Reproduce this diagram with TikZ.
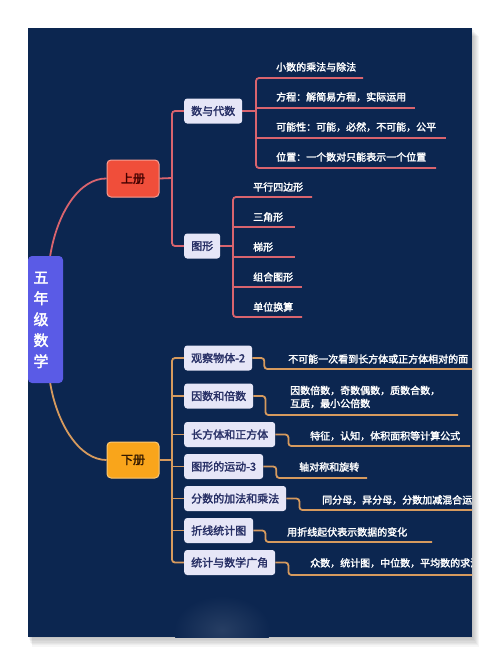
\documentclass[tikz,border=0pt]{standalone}
\usepackage{fontspec}
\setmainfont{Noto Sans CJK SC}
\newfontfamily\heavy{Noto Sans CJK SC}[FakeBold=2.2]
\definecolor{bg}{HTML}{0C2650}
\definecolor{rootc}{HTML}{5A5BE6}
\definecolor{upc}{HTML}{F04E3A}
\definecolor{upl}{HTML}{D9646E}
\definecolor{dnc}{HTML}{F9A51B}
\definecolor{dnl}{HTML}{D69A5E}
\definecolor{subf}{HTML}{E6E6F7}
\definecolor{subt}{HTML}{283066}
\pgfdeclarelayer{back}
\pgfsetlayers{back,main}
\begin{document}
\begin{tikzpicture}[x=1pt,y=-1pt,line join=round,
  subnode/.style={fill=subf,text=subt,rounded corners=3pt,minimum height=25pt,inner xsep=7pt,inner ysep=0pt,font=\heavy\fontsize{11}{13}\selectfont,anchor=west},
  leaf/.style={text=white,font=\heavy\fontsize{10}{13}\selectfont,anchor=west,inner sep=0pt,align=left},
  upline/.style={draw=upl,line width=1.8pt,rounded corners=3pt},
  dnline/.style={draw=dnl,line width=1.8pt,rounded corners=3pt},
  volbox/.style={minimum width=52pt,minimum height=37pt,rounded corners=4pt,line width=1pt,font=\heavy\fontsize{12}{14}\selectfont}]
\useasboundingbox (0,0) rectangle (500,651);
\begin{pgfonlayer}{back}
  \fill[white] (0,0) rectangle (500,651);
  \foreach \i in {1,...,7} \fill[black,opacity=0.035] (28+\i*0.6,28+\i*1.2) rectangle (472+\i,637+\i*1.4);
  \fill[bg] (28,28) rectangle (472,637);
  \begin{scope}
    \clip (28,28) rectangle (472,637);
    \shade[inner color=white!11!bg,outer color=bg] (222,630) ellipse (48 and 34);
  \end{scope}
\end{pgfonlayer}

% main nodes
\node[fill=rootc,minimum width=35pt,minimum height=127pt,rounded corners=4pt] (root) at (45.5,319.5) {};
\node[text=white,font=\heavy\fontsize{15}{21}\selectfont,align=center,inner sep=0pt] (roottxt) at (41,320) {五\\年\\级\\数\\学};
\node[volbox,fill=upc,draw=upc!55!white,text=black!75!red] (up) at (133,178.5) {上册};
\node[volbox,fill=dnc,draw=dnc!60!white,text=black!80!orange,minimum height=36pt] (dn) at (133,460) {下册};

\node[subnode] (sd) at (184,111) {数与代数};
\node[subnode] (tx) at (184,246) {图形};

\node[subnode] (n1) at (184,358) {观察物体-2};
\node[subnode] (n2) at (184,396) {因数和倍数};
\node[subnode] (n3) at (184,434.5) {长方体和正方体};
\node[subnode] (n4) at (184,466.5) {图形的运动-3};
\node[subnode] (n5) at (184,498.5) {分数的加法和乘法};
\node[subnode] (n6) at (184,530.5) {折线统计图};
\node[subnode] (n7) at (184,562.5) {统计与数学广角};

% leaves
\begin{scope}
  \clip (28,28) rectangle (472,637);
  \node[leaf] (a1) at (276,67) {小数的乘法与除法};
  \node[leaf] (a2) at (276,97) {方程：解简易方程，实际运用};
  \node[leaf] (a3) at (276,127) {可能性：可能，必然，不可能，公平};
  \node[leaf] (a4) at (276,157) {位置：一个数对只能表示一个位置};
  \node[leaf] (b1) at (253,187) {平行四边形};
  \node[leaf] (b2) at (253,217) {三角形};
  \node[leaf] (b3) at (253,247) {梯形};
  \node[leaf] (b4) at (253,277) {组合图形};
  \node[leaf] (b5) at (253,307) {单位换算};
  \node[leaf] (c1) at (288,359) {不可能一次看到长方体或正方体相对的面};
  \node[leaf] (c2) at (290,397) {因数倍数，奇数偶数，质数合数，\\互质，最小公倍数};
  \node[leaf] (c3) at (310,436) {特征，认知，体积面积等计算公式};
  \node[leaf] (c4) at (299,467) {轴对称和旋转};
  \node[leaf] (c5) at (322,500) {同分母，异分母，分数加减混合运算};
  \node[leaf] (c6) at (287,532) {用折线起伏表示数据的变化};
  \node[leaf] (c7) at (310,563) {众数，统计图，中位数，平均数的求法};
\end{scope}

% line end coordinates
\coordinate (a1e) at (363,78);
\coordinate (a2e) at (415,108);
\coordinate (a3e) at (446,138);
\coordinate (a4e) at (436,168);
\coordinate (b1e) at (312,197);
\coordinate (b2e) at (295,227);
\coordinate (b3e) at (295,257);
\coordinate (b4e) at (302,287);
\coordinate (b5e) at (302,317);
\coordinate (c1e) at (472,369);
\coordinate (c2e) at (458,415);
\coordinate (c3e) at (470,446);
\coordinate (c4e) at (367,478);
\coordinate (c5e) at (472,510);
\coordinate (c6e) at (432,542);
\coordinate (c7e) at (472,575);

\begin{pgfonlayer}{back}
  % root to volumes
  \draw[upline] (50,257) .. controls (57,212) and (80,178) .. (up.west);
  \draw[dnline] (50,382) .. controls (57,425) and (80,460) .. (dn.west);
  % upper volume
  \draw[upline] (up.east) -- (172,178);
  \draw[upline] (sd.west) -- (172,111) -- (172,246) -- (tx.west);
  \draw[upline] (sd.east) -- (256,111);
  \draw[upline] (a1e) -- (256,78) -- (256,168) -- (a4e);
  \draw[upline] (256,108) -- (a2e);
  \draw[upline] (256,138) -- (a3e);
  \draw[upline] (tx.east) -- (233,246);
  \draw[upline] (b1e) -- (233,197) -- (233,317) -- (b5e);
  \draw[upline] (233,227) -- (b2e);
  \draw[upline] (233,257) -- (b3e);
  \draw[upline] (233,287) -- (b4e);
  % lower volume
  \draw[dnline] (dn.east) -- (172,460);
  \draw[dnline] (n1.west) -- (172,358) -- (172,562.5) -- (n7.west);
  \foreach \n in {n2,n3,n4,n5,n6} \draw[dnline] (\n.west) -- ++(-12,0);
  \draw[dnline] (n1.east) -- ++(12,0) |- (c1e);
  \draw[dnline] (n2.east) -- ++(12,0) |- (c2e);
  \draw[dnline] (n3.east) -- ++(13,0) |- (c3e);
  \draw[dnline] (n4.east) -- ++(13,0) |- (c4e);
  \draw[dnline] (n5.east) -- ++(13,0) |- (c5e);
  \draw[dnline] (n6.east) -- ++(12,0) |- (c6e);
  \draw[dnline] (n7.east) -- ++(13,0) |- (c7e);
\end{pgfonlayer}
\end{tikzpicture}
\end{document}
